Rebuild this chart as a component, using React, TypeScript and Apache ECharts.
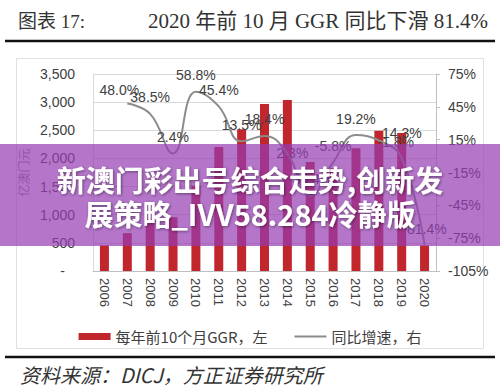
import React, { useEffect, useRef } from "react";
import * as echarts from "echarts";

const years = ["2006", "2007", "2008", "2009", "2010", "2011", "2012", "2013", "2014", "2015", "2016", "2017", "2018", "2019", "2020"];
const ggr = [455, 673, 932, 954, 1515, 2203, 2520, 2967, 3038, 1935, 1827, 2180, 2490, 2450, 455];
const growth: (number | null)[] = [null, 48.0, 38.5, 2.4, 58.8, 45.4, 13.5, 18.4, 2.3, -36.4, -5.8, 19.2, 14.3, -1.8, -81.4];
const leftTicks = { min: 0, max: 3500, interval: 500 };
const rightTicks = { low: -105, high: 75, interval: 30 };
const seriesNames = ["每年前10个月GGR，左", "同比增速，右"];
const titleLeft = "图表 17:";
const titleRight = "2020 年前 10 月 GGR 同比下滑 81.4%";
const sourceText = "资料来源：DICJ，方正证券研究所";
const overlayLines = ["新澳门彩出号综合走势,创新发", "展策略_IVV58.284冷静版"];

const SANS = "'Liberation Sans', Arial, 'Noto Sans CJK SC', sans-serif";
const CJK = "'Noto Sans CJK SC', 'Liberation Sans', sans-serif";
const SERIF = "'Liberation Serif', 'Noto Sans CJK SC', serif";

const labelOffsets: Record<number, number[]> = {
  1: [-8, 3],
  8: [5, 16],
  12: [23, 9],
  13: [-6, 0],
};

export default function App() {
  const ref = useRef<HTMLDivElement>(null);
  useEffect(() => {
    if (!ref.current) return;
    const chart = echarts.init(ref.current, undefined, { renderer: "svg" });
    const shift = -rightTicks.low;
    const lineData = growth.map((v, i) => {
      if (v == null) return null;
      const item: any = { value: v + shift };
      if (labelOffsets[i]) item.label = { offset: labelOffsets[i] };
      return item;
    });
    const overlayStyle = {
      fontSize: 29,
      fontWeight: "bold",
      fill: "#ffffff",
      fontFamily: CJK,
      textAlign: "center",
      verticalAlign: "middle",
      textShadowColor: "rgba(0,0,0,0.45)",
      textShadowBlur: 3,
      textShadowOffsetX: 1,
      textShadowOffsetY: 1,
    };
    chart.setOption({
      animation: false,
      backgroundColor: "#ffffff",
      grid: { left: 93, right: 64, top: 74, bottom: 120, show: false },
      legend: {
        top: 324,
        left: "center",
        itemWidth: 32,
        itemHeight: 7,
        itemGap: 26,
        textStyle: { fontSize: 15, color: "#404040", fontFamily: CJK },
        data: [
          { name: seriesNames[0], icon: "rect" },
          { name: seriesNames[1] },
        ],
      },
      xAxis: {
        type: "category",
        data: years,
        axisTick: { show: false },
        axisLine: { lineStyle: { color: "#bfbfbf" } },
        axisLabel: { rotate: -90, fontSize: 13, color: "#404040", margin: 7, fontFamily: SANS },
      },
      yAxis: [
        {
          type: "value",
          min: leftTicks.min,
          max: leftTicks.max,
          interval: leftTicks.interval,
          name: "亿澳门元",
          nameLocation: "middle",
          nameRotate: 90,
          nameGap: 64,
          nameTextStyle: { color: "#8c8c8c", fontSize: 12, fontFamily: CJK },
          axisLine: { show: true, lineStyle: { color: "#d9d9d9" } },
          axisTick: { show: false },
          splitLine: { lineStyle: { color: "#d9d9d9" } },
          axisLabel: {
            fontSize: 14,
            color: "#404040",
            margin: 18,
            fontFamily: SANS,
            formatter: (v: number) => (v === 0 ? "{z|-}" : v.toLocaleString("en-US")),
            rich: { z: { padding: [0, 10, 0, 0], fontSize: 14, color: "#404040" } },
          },
        },
        {
          type: "value",
          min: 0,
          max: rightTicks.high - rightTicks.low,
          interval: rightTicks.interval,
          position: "right",
          axisLine: { show: true, lineStyle: { color: "#bfbfbf" } },
          axisTick: { show: true, inside: false, length: 4, lineStyle: { color: "#bfbfbf" } },
          splitLine: { show: false },
          axisLabel: {
            fontSize: 14,
            color: "#404040",
            margin: 12,
            fontFamily: SANS,
            formatter: (v: number) => `${v - shift}%`,
          },
        },
      ],
      series: [
        {
          name: seriesNames[0],
          type: "bar",
          data: ggr,
          barWidth: 9,
          itemStyle: { color: "#c0262c" },
          z: 2,
        },
        {
          name: seriesNames[1],
          type: "line",
          yAxisIndex: 1,
          data: lineData,
          smooth: 0.45,
          symbol: "circle",
          symbolSize: 1,
          showSymbol: true,
          lineStyle: { color: "#8c8c8c", width: 2 },
          itemStyle: { color: "rgba(140,140,140,0)" },
          z: 3,
          label: {
            show: true,
            position: "top",
            distance: 9,
            fontSize: 14,
            color: "#404040",
            fontFamily: SANS,
            formatter: (p: any) => {
              const g = growth[p.dataIndex];
              return g == null ? "" : `${g.toFixed(1)}%`;
            },
          },
        },
      ],
      graphic: [
        {
          type: "rect",
          z: 0,
          shape: { x: 16.5, y: 58.5, width: 467, height: 290 },
          style: { fill: "none", stroke: "#e0e0e0", lineWidth: 1 },
        },
        {
          type: "text",
          z: 10,
          x: 18,
          y: 21,
          style: { text: titleLeft, fontSize: 19, fill: "#333333", fontFamily: SERIF, verticalAlign: "middle", textAlign: "left" },
        },
        {
          type: "text",
          z: 10,
          x: 488,
          y: 21,
          style: { text: titleRight, fontSize: 21, fill: "#333333", fontFamily: SERIF, verticalAlign: "middle", textAlign: "right" },
        },
        {
          type: "line",
          z: 10,
          shape: { x1: 5, y1: 41, x2: 495, y2: 41 },
          style: { stroke: "#111111", lineWidth: 2.5 },
        },
        {
          type: "line",
          z: 10,
          shape: { x1: 5, y1: 357, x2: 495, y2: 357 },
          style: { stroke: "#111111", lineWidth: 2.5 },
        },
        {
          type: "text",
          z: 10,
          x: 20,
          y: 374,
          style: { text: sourceText, fontSize: 20, fontStyle: "italic", fill: "#333333", fontFamily: CJK, verticalAlign: "middle", textAlign: "left" },
        },
        {
          type: "rect",
          z: 100,
          shape: { x: 0, y: 144, width: 500, height: 102 },
          style: { fill: "rgba(150, 60, 180, 0.7)" },
        },
        { type: "text", z: 101, x: 250, y: 179, style: { ...overlayStyle, text: overlayLines[0] } },
        { type: "text", z: 101, x: 250, y: 213, style: { ...overlayStyle, text: overlayLines[1] } },
      ],
    });
    return () => chart.dispose();
  }, []);
  return <div ref={ref} style={{ position: "fixed", left: 0, top: 0, width: 500, height: 391 }} />;
}
